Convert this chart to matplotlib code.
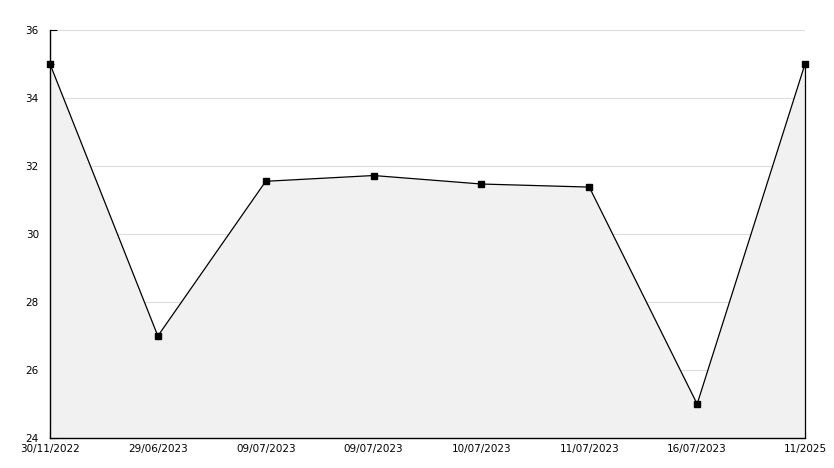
import matplotlib
matplotlib.use("Agg")
import matplotlib.pyplot as plt
import numpy as np

# data
dates = ["30/11/2022", "29/06/2023", "09/07/2023", "09/07/2023",
         "10/07/2023", "11/07/2023", "16/07/2023", "11/2025"]
values = [35.0, 27.0, 31.55, 31.72, 31.47, 31.38, 25.0, 35.0]
y_ticks = [24, 26, 28, 30, 32, 34, 36]

x = np.arange(len(values))

fig = plt.figure(figsize=(8.34, 4.68), dpi=100)
ax = fig.add_axes([50 / 834, 30 / 468, 755 / 834, 408 / 468])

ax.fill_between(x, values, 24, color="#f1f1f1", linewidth=0, zorder=1)
ax.vlines(x[-1], 24, values[-1], color="black", linewidth=0.9, zorder=2,
          clip_on=False)
ax.plot(x, values, color="black", linewidth=0.9, marker="s",
        markersize=4.5, zorder=3, clip_on=False)

ax.set_xlim(x[0], x[-1])
ax.set_ylim(24, 36)
ax.set_yticks(y_ticks)
ax.set_yticks(np.arange(25, 36, 2), minor=True)
ax.set_xticks(x)
ax.set_xticklabels(dates)
ax.grid(axis="y", color="#dddddd", linewidth=0.8, zorder=0)
ax.set_axisbelow(True)

for s in ["top", "right"]:
    ax.spines[s].set_visible(False)
ax.spines["left"].set_linewidth(1.0)
ax.spines["bottom"].set_linewidth(1.0)

ax.tick_params(axis="both", which="both", direction="in", labelsize=7.5,
               colors="black")
ax.tick_params(axis="y", which="major", length=5, pad=8)
ax.tick_params(axis="y", which="minor", length=3)
ax.tick_params(axis="x", length=5, pad=4)

fig.savefig("out.png", dpi=100)
